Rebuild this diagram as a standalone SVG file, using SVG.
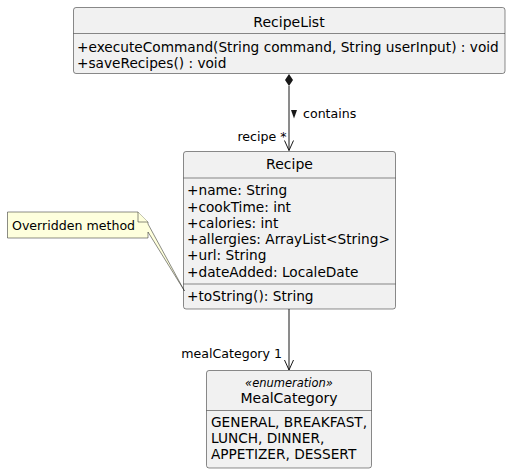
<svg xmlns="http://www.w3.org/2000/svg" width="510" height="474" viewBox="0 0 510 474">
<style>
text{font-family:"DejaVu Sans","Liberation Sans",sans-serif;fill:#000;}
.box{fill:#F1F1F1;stroke:#181818;stroke-width:0.5;}
.div{stroke:#181818;stroke-width:0.5;}
.t{font-size:13.7px;}
.title{font-size:14px;text-anchor:middle;}
.lbl{font-size:12.6px;}
.line{stroke:#181818;stroke-width:1;fill:none;}
.note{fill:#FEFFDD;stroke:#181818;stroke-width:0.5;}
</style>
<rect width="510" height="474" fill="#FFFFFF"/>
<g id="RecipeList">
<rect class="box" x="73.5" y="7.5" width="431.5" height="66" rx="2.5"/>
<text class="title" x="289" y="27">RecipeList</text>
<line class="div" x1="73.5" y1="33.5" x2="505" y2="33.5"/>
<text class="t" x="77" y="52">+executeCommand(String command, String userInput) : void</text>
<text class="t" x="77" y="68">+saveRecipes() : void</text>
</g>
<g id="Recipe">
<rect class="box" x="183.5" y="151.5" width="212" height="157.5" rx="2.5"/>
<text class="title" x="289.5" y="169">Recipe</text>
<line class="div" x1="183.5" y1="178" x2="395.5" y2="178"/>
<text class="t" x="187" y="195">+name: String</text>
<text class="t" x="187" y="211.5">+cookTime: int</text>
<text class="t" x="187" y="227.5">+calories: int</text>
<text class="t" x="187" y="243.5">+allergies: ArrayList&lt;String&gt;</text>
<text class="t" x="187" y="260">+url: String</text>
<text class="t" x="187" y="276.5">+dateAdded: LocaleDate</text>
<line class="div" x1="183.5" y1="284" x2="395.5" y2="284"/>
<text class="t" x="187" y="300.5">+toString(): String</text>
</g>
<g id="MealCategory">
<rect class="box" x="206.5" y="370.5" width="165" height="97.5" rx="2.5"/>
<text x="289" y="386.5" style="font-size:11.5px;font-style:italic;text-anchor:middle;">«enumeration»</text>
<text class="title" x="289" y="402.5">MealCategory</text>
<line class="div" x1="206.5" y1="410.5" x2="371.5" y2="410.5"/>
<text class="t" x="211" y="427">GENERAL, BREAKFAST,</text>
<text class="t" x="211" y="443">LUNCH, DINNER,</text>
<text class="t" x="211" y="459">APPETIZER, DESSERT</text>
</g>
<g id="note">
<path class="note" d="M7.5,212 L138,212 L148,222 L148,224 L184.5,291 L148,232 L148,238 L7.5,238 Z"/>
<path class="note" d="M138,212 L138,222 L148,222"/>
<text class="lbl" x="12" y="229.5">Overridden method</text>
</g>
<g id="connectors">
<line class="line" x1="289" y1="86" x2="289" y2="150.5"/>
<polygon points="289,74 293,80 289,86 285,80" fill="#181818"/>
<polyline class="line" points="284.5,140.5 289,150.5 293.5,140.5"/>
<polygon points="291,110 297,110 294,118.5" fill="#181818"/>
<text class="lbl" x="303" y="117.5">contains</text>
<text class="lbl" x="286.5" y="141" text-anchor="end">recipe *</text>
<line class="line" x1="289" y1="309" x2="289" y2="370"/>
<polyline class="line" points="284.5,360 289,370 293.5,360"/>
<text class="lbl" x="282" y="357.5" text-anchor="end">mealCategory 1</text>
</g>
</svg>
